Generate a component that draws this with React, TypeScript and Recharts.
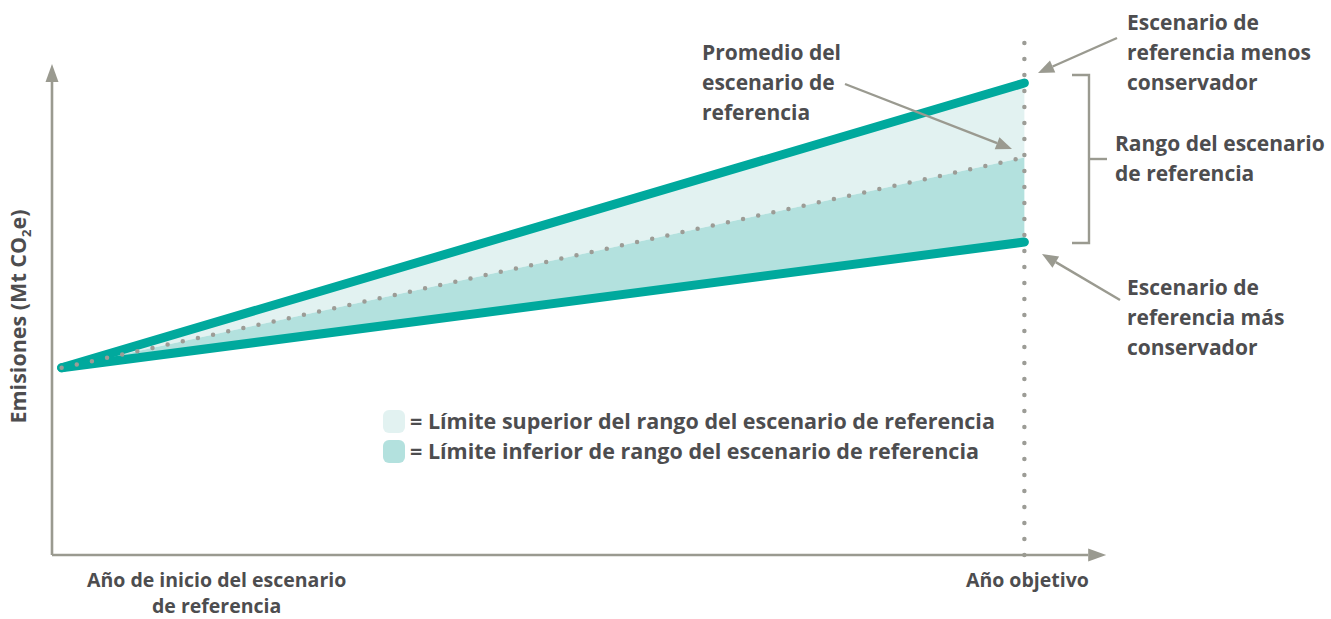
import React from 'react';
import { ComposedChart, Area, Line, XAxis, YAxis, ReferenceLine, Legend } from 'recharts';

// x: 0 = año de inicio, 100 = año objetivo
const YEARS = [0, 100];
const UPPER = [36.5, 92];
const MEAN = [36.5, 77.5];
const LOWER = [36.5, 61];
const X_TICK_LABELS = [['Año de inicio del escenario', 'de referencia'], ['Año objetivo']];
const BAND_NAMES = [
  'Límite superior del rango del escenario de referencia',
  'Límite inferior de rango del escenario de referencia',
];

const data = YEARS.map((x, i) => ({
  x,
  upper: UPPER[i],
  mean: MEAN[i],
  lower: LOWER[i],
  hiBand: [MEAN[i], UPPER[i]],
  loBand: [LOWER[i], MEAN[i]],
}));

const TEAL = '#00a99d';
const LIGHT = '#e2f2f1';
const MID = '#b3e1de';
const GRAY = '#9a9a90';
const DOT = '#9c9c96';
const TEXT = '#4d4d4f';
const FONT = '"Open Sans", sans-serif';

function arrowHead(x1: number, y1: number, x2: number, y2: number, len: number, half: number) {
  const a = Math.atan2(y2 - y1, x2 - x1);
  const bx = x2 - len * Math.cos(a);
  const by = y2 - len * Math.sin(a);
  const s = Math.sin(a);
  const c = Math.cos(a);
  return {
    bx,
    by,
    points: `${x2},${y2} ${bx + half * s},${by - half * c} ${bx - half * s},${by + half * c}`,
  };
}

const AxisArrow = (p: any) => {
  const { x1, y1, x2, y2 } = p;
  const h = arrowHead(x1, y1, x2, y2, 18, 6.5);
  return (
    <g>
      <line x1={x1} y1={y1} x2={h.bx} y2={h.by} stroke={GRAY} strokeWidth={2.6} />
      <polygon points={h.points} fill={GRAY} />
    </g>
  );
};

const Pointer = ({ x1, y1, x2, y2 }: { x1: number; y1: number; x2: number; y2: number }) => {
  const h = arrowHead(x1, y1, x2, y2, 16, 6.5);
  return (
    <g>
      <line x1={x1} y1={y1} x2={h.bx} y2={h.by} stroke={GRAY} strokeWidth={2.4} />
      <polygon points={h.points} fill={GRAY} />
    </g>
  );
};

const XTick = (p: any) => {
  const { x, y, index } = p;
  const lines = X_TICK_LABELS[index] || [];
  const cx = index === 0 ? x + 155 : x + 3;
  return (
    <text x={cx} y={y} textAnchor="middle" fill={TEXT} fontFamily={FONT} fontWeight={700} fontSize={19.5}>
      {lines.map((l: string, i: number) => (
        <tspan key={i} x={cx} dy={i === 0 ? 31.5 : 26.5}>
          {l}
        </tspan>
      ))}
    </text>
  );
};

const YLabel = (p: any) => {
  const vb = p.viewBox || { x: 0, y: 42, width: 52, height: 513 };
  const cx = vb.x + 26;
  const cy = vb.y + vb.height / 2 + 18;
  return (
    <text
      x={cx}
      y={cy}
      transform={`rotate(-90, ${cx}, ${cy})`}
      textAnchor="middle"
      fill={TEXT}
      fontFamily={FONT}
      fontWeight={700}
      fontSize={21.5}
    >
      Emisiones (Mt CO<tspan fontSize={13} dy={5}>2</tspan>
      <tspan dy={-5}>e)</tspan>
    </text>
  );
};

const LegendContent = (p: any) => {
  const items = BAND_NAMES.map((n) => (p.payload || []).find((e: any) => e.value === n)).filter(Boolean);
  return (
    <div style={{ fontFamily: FONT, fontWeight: 700, fontSize: 21.5, color: TEXT, lineHeight: '30px' }}>
      {items.map((e: any, i: number) => (
        <div key={i} style={{ display: 'flex', alignItems: 'center', whiteSpace: 'nowrap' }}>
          <span
            style={{
              display: 'inline-block',
              width: 22,
              height: 23,
              borderRadius: 6,
              background: e.color,
              marginRight: 5,
            }}
          />
          <span>= {e.value}</span>
        </div>
      ))}
    </div>
  );
};

const annText = (lines: string[], x: number, y0: number) =>
  lines.map((l, i) => (
    <text key={l + i} x={x} y={y0 + i * 30} fill={TEXT} fontFamily={FONT} fontWeight={700} fontSize={21}>
      {l}
    </text>
  ));

export default function App() {
  return (
    <div style={{ position: 'absolute', left: 0, top: 0, width: 1331, height: 619, background: '#fff' }}>
      <ComposedChart width={1331} height={619} data={data} margin={{ top: 42, right: 297, bottom: 0, left: 0 }}>
        <XAxis
          dataKey="x"
          type="number"
          domain={[-1, 101]}
          ticks={YEARS}
          axisLine={false}
          tickLine={false}
          tickSize={0}
          tickMargin={0}
          height={64}
          tick={<XTick />}
          interval={0}
        />
        <YAxis type="number" domain={[0, 100]} width={52} axisLine={false} tick={false} tickLine={false} label={YLabel} />
        <Area
          dataKey="hiBand"
          name={BAND_NAMES[0]}
          type="linear"
          fill={LIGHT}
          fillOpacity={1}
          stroke="none"
          isAnimationActive={false}
        />
        <Area
          dataKey="loBand"
          name={BAND_NAMES[1]}
          type="linear"
          fill={MID}
          fillOpacity={1}
          stroke="none"
          isAnimationActive={false}
        />
        <ReferenceLine
          x={100}
          stroke={DOT}
          strokeWidth={4.5}
          strokeDasharray="0 16"
          strokeLinecap="round"
          ifOverflow="visible"
        />
        <Line
          dataKey="upper"
          type="linear"
          stroke={TEAL}
          strokeWidth={9}
          strokeLinecap="round"
          dot={false}
          legendType="none"
          isAnimationActive={false}
        />
        <Line
          dataKey="lower"
          type="linear"
          stroke={TEAL}
          strokeWidth={9}
          strokeLinecap="round"
          dot={false}
          legendType="none"
          isAnimationActive={false}
        />
        <Line
          dataKey="mean"
          type="linear"
          stroke={DOT}
          strokeWidth={4.5}
          strokeDasharray="0 15.5"
          strokeLinecap="round"
          dot={false}
          legendType="none"
          isAnimationActive={false}
        />
        <ReferenceLine
          segment={[
            { x: -1, y: 0 },
            { x: 108.5, y: 0 },
          ]}
          ifOverflow="visible"
          shape={AxisArrow}
        />
        <ReferenceLine
          segment={[
            { x: -1, y: 0 },
            { x: -1, y: 95.7 },
          ]}
          ifOverflow="visible"
          shape={AxisArrow}
        />
        <Legend
          layout="vertical"
          align="center"
          verticalAlign="middle"
          content={LegendContent}
          wrapperStyle={{ left: 383, top: 406, width: 660, height: 62 }}
        />
      </ComposedChart>
      <svg
        width={1331}
        height={619}
        style={{ position: 'absolute', left: 0, top: 0, pointerEvents: 'none' }}
      >
        {annText(['Escenario de', 'referencia menos', 'conservador'], 1127, 30)}
        {annText(['Promedio del', 'escenario de', 'referencia'], 702, 60)}
        {annText(['Rango del escenario', 'de referencia'], 1115, 151)}
        {annText(['Escenario de', 'referencia más', 'conservador'], 1127, 295)}
        <Pointer x1={1117} y1={38} x2={1038} y2={73} />
        <Pointer x1={845} y1={84} x2={1012} y2={149} />
        <Pointer x1={1120} y1={300} x2={1042} y2={254} />
        <polyline points="1072,75 1089,75 1089,243 1072,243" fill="none" stroke={GRAY} strokeWidth={2.4} />
        <line x1={1089} y1={159} x2={1107} y2={159} stroke={GRAY} strokeWidth={2.4} />
      </svg>
    </div>
  );
}
